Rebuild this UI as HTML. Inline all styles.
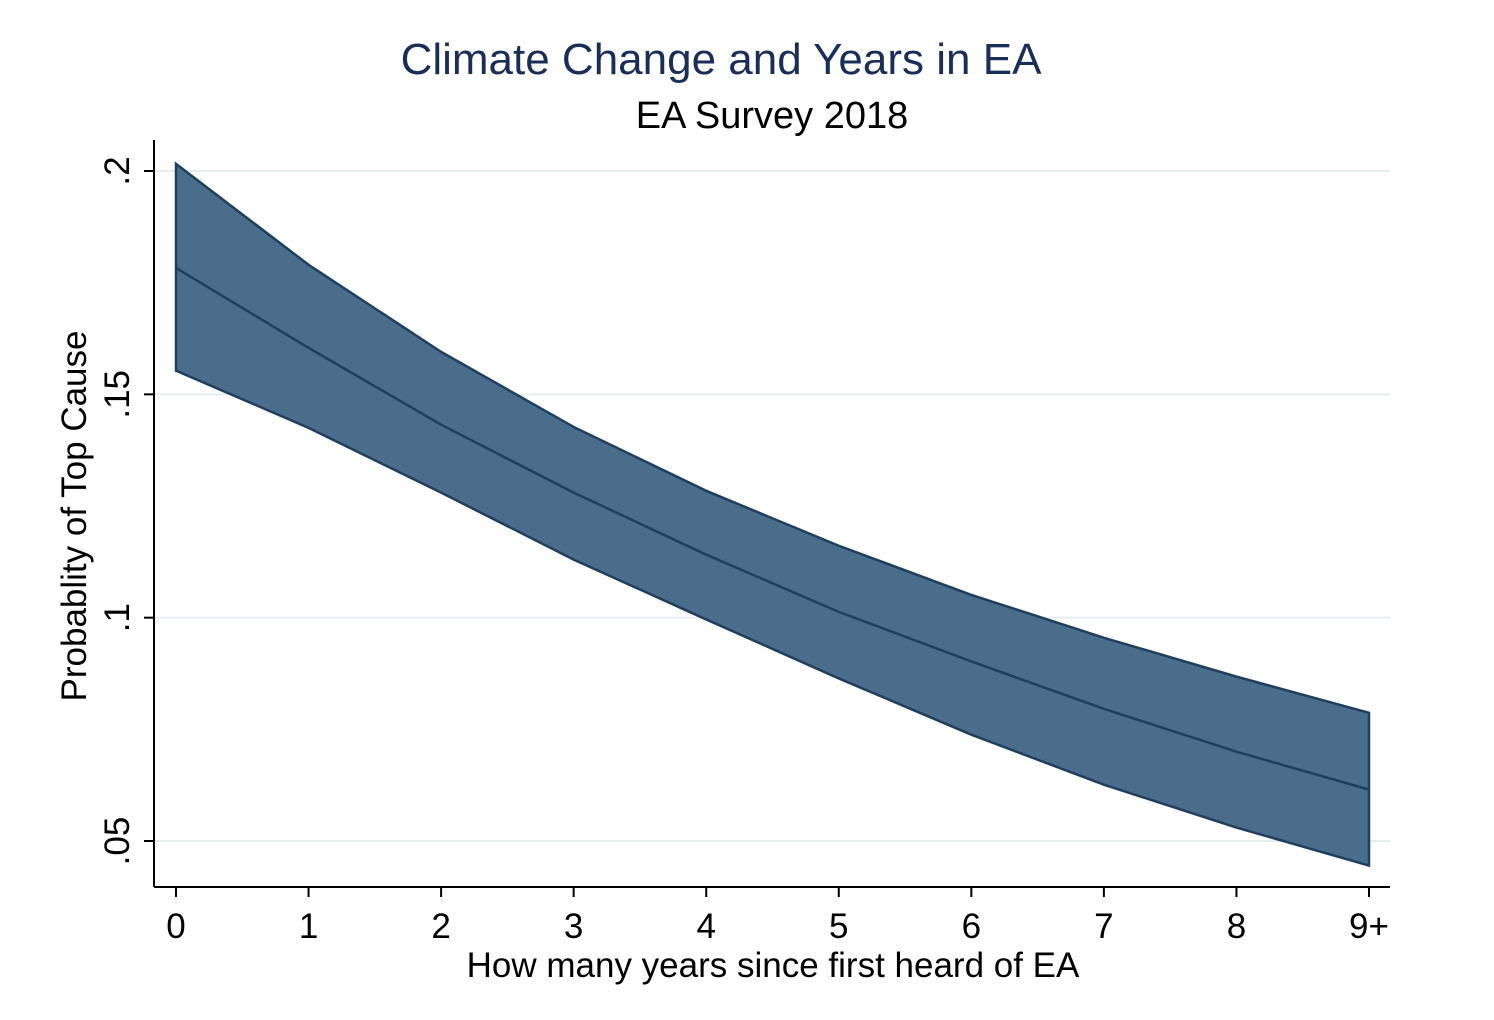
<!DOCTYPE html>
<html><head><meta charset="utf-8"><style>
body{margin:0;background:#fff;}
svg{display:block;font-family:"Liberation Sans",Arial,sans-serif;}
</style></head><body>
<svg id="chart" width="1494" height="1020">
<text x="721" y="74" text-anchor="middle" font-size="44" fill="#1a2e5a">Climate Change and Years in EA</text>
<text x="772" y="128" text-anchor="middle" font-size="38" fill="#000">EA Survey 2018</text>
<g id="grid"></g>
<g id="plot"></g>
<line x1="154" y1="140" x2="154" y2="887" stroke="#000" stroke-width="2"/>
<line x1="154" y1="887" x2="1390" y2="887" stroke="#000" stroke-width="2"/>
<g id="ticks"></g>
<text x="773" y="977" text-anchor="middle" font-size="35">How many years since first heard of EA</text>
<text transform="translate(86,516) rotate(-90)" text-anchor="middle" font-size="35">Probablity of Top Cause</text>
</svg>
<script>
const categories=["0","1","2","3","4","5","6","7","8","9+"];
const upper=[0.2016,0.179,0.1595,0.1427,0.1284,0.1161,0.1051,0.0955,0.0868,0.0787];
const lower=[0.1553,0.1425,0.128,0.113,0.0996,0.0864,0.0738,0.0626,0.053,0.0445];
const mid=[0.1783,0.1604,0.1432,0.128,0.1141,0.1013,0.0902,0.0796,0.07,0.0615];
const yTicks=[0.05,0.1,0.15,0.2];
const yTickLabels=[".05",".1",".15",".2"];
const NS="http://www.w3.org/2000/svg";
const xs=i=>176+i*(1369-176)/9;
const ys=v=>171+(0.2-v)*(841-171)/0.15;
function mk(tag,attrs,parent){const e=document.createElementNS(NS,tag);for(const k in attrs)e.setAttribute(k,attrs[k]);parent.appendChild(e);return e;}
const grid=document.getElementById('grid'),plot=document.getElementById('plot'),ticks=document.getElementById('ticks');
yTicks.forEach((v,i)=>{
 const g=mk('line',{x1:154,x2:1390,y1:ys(v),y2:ys(v),stroke:'#e6eef0','stroke-width':2},grid);
 
 
 const t=mk('line',{x1:144,x2:154,y1:ys(v),y2:ys(v),stroke:'#000','stroke-width':2},ticks);
 
 
 const l=mk('text',{transform:`translate(129,${ys(v)}) rotate(-90)`,'text-anchor':'middle','font-size':35},ticks);
 l.textContent=yTickLabels[i];
 
 
});
categories.forEach((c,i)=>{
 const t=mk('line',{x1:xs(i),x2:xs(i),y1:887,y2:897,stroke:'#000','stroke-width':2},ticks);
 
 
 const l=mk('text',{x:xs(i),y:938,'text-anchor':'middle','font-size':35},ticks);
 l.textContent=c;
 
 
});
let d='M'+upper.map((v,i)=>xs(i)+','+ys(v)).join('L');
for(let i=lower.length-1;i>=0;i--)d+='L'+xs(i)+','+ys(lower[i]);
d+='Z';
const band=mk('path',{d:d,fill:'#4a6d8c',stroke:'#1f3f5f','stroke-width':2.5},plot);


const line=mk('polyline',{points:mid.map((v,i)=>xs(i)+','+ys(v)).join(' '),fill:'none',stroke:'#1f3f5f','stroke-width':2.5},plot);


</script>
</body></html>
